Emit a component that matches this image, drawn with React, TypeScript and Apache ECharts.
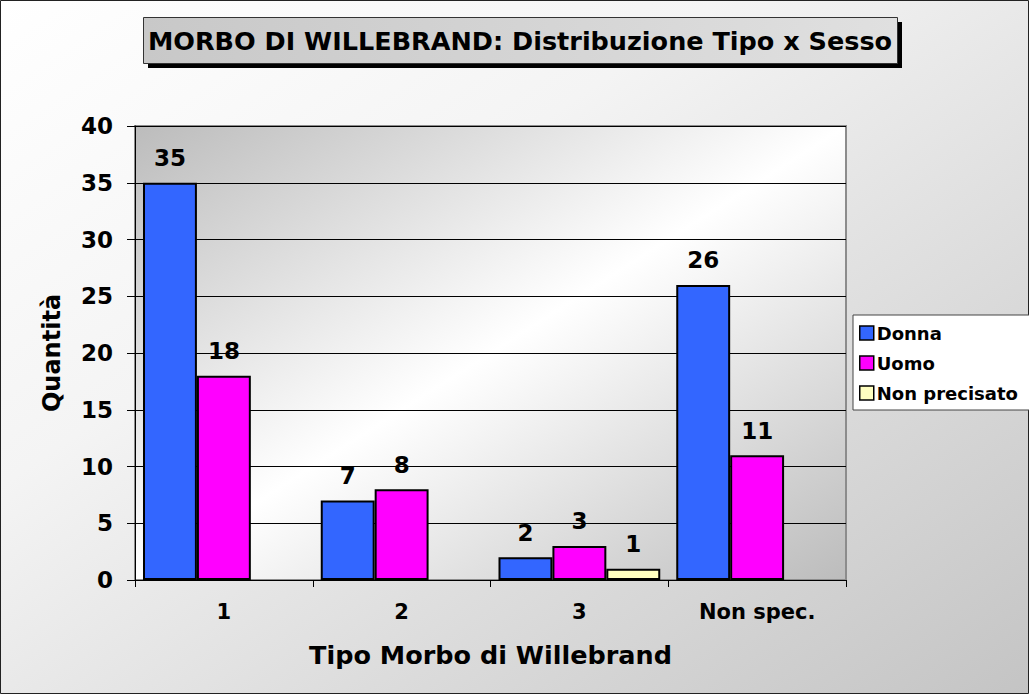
import React, { useEffect, useRef } from "react";
import * as echarts from "echarts";

const categories = ["1", "2", "3", "Non spec."];
const donna = [35, 7, 2, 26];
const uomo = [18, 8, 3, 11];
const nonPrecisato = [null, null, 1, null];
const yTicks = { min: 0, max: 40, interval: 5 };

const FONT = "'DejaVu Sans', Verdana, sans-serif";

export default function App() {
  const ref = useRef<HTMLDivElement>(null);
  useEffect(() => {
    document.body.style.margin = "0";
    const chart = echarts.init(ref.current!, null, { renderer: "svg" });
    const label = {
      show: true,
      position: "top" as const,
      distance: 13,
      fontFamily: FONT,
      fontWeight: "bold" as const,
      fontSize: 23,
      color: "#000",
    };
    const mk = (name: string, data: any[], color: string) => ({
      name,
      type: "bar" as const,
      data,
      barGap: "0%",
      barCategoryGap: "9%",
      itemStyle: { color, borderColor: "#000", borderWidth: 2 },
      label,
    });
    chart.setOption({
      animation: false,
      textStyle: { fontFamily: FONT },
      graphic: [
        {
          type: "rect",
          z: -100,
          shape: { x: 0.5, y: 0.5, width: 1028, height: 693 },
          style: {
            fill: new echarts.graphic.LinearGradient(0, 0, 1, 1, [
              { offset: 0, color: "#ffffff" },
              { offset: 0.35, color: "#f4f4f4" },
              { offset: 1, color: "#c4c4c4" },
            ]),
            stroke: "#222",
            lineWidth: 1,
          },
        },
        {
          type: "rect",
          z: -90,
          shape: { x: 135, y: 126, width: 711, height: 454 },
          style: {
            fill: new echarts.graphic.LinearGradient(0, 0, 1, 1, [
              { offset: 0, color: "#bcbcbc" },
              { offset: 0.5, color: "#ffffff" },
              { offset: 1, color: "#bcbcbc" },
            ]),
            stroke: "#8c8c8c",
            lineWidth: 2,
          },
        },
        {
          type: "rect",
          z: 10,
          shape: { x: 148, y: 22, width: 754, height: 46 },
          style: { fill: "#000" },
        },
        {
          type: "rect",
          z: 11,
          shape: { x: 143.5, y: 17.5, width: 754, height: 46 },
          style: {
            fill: new echarts.graphic.LinearGradient(0, 0, 1, 0, [
              { offset: 0, color: "#c8c8c8" },
              { offset: 1, color: "#e0e0e0" },
            ]),
            stroke: "#333",
            lineWidth: 1,
          },
        },
        {
          type: "text",
          z: 12,
          x: 520,
          y: 41,
          style: {
            text: "MORBO DI WILLEBRAND: Distribuzione Tipo x Sesso",
            fontFamily: FONT,
            fontWeight: "bold",
            fontSize: 25.5,
            fill: "#000",
            align: "center",
            verticalAlign: "middle",
          },
        },
      ],
      legend: {
        orient: "vertical",
        left: 853,
        top: 315,
        backgroundColor: "#fff",
        borderColor: "#444",
        borderWidth: 1,
        padding: [9, 20, 8, 6],
        itemWidth: 14,
        itemHeight: 14,
        itemGap: 12,
        icon: "rect",
        itemStyle: { borderColor: "#000", borderWidth: 1.5 },
        textStyle: {
          fontFamily: FONT,
          fontWeight: "bold",
          fontSize: 18,
          color: "#000",
          padding: [0, 0, 0, -2],
        },
        data: ["Donna", "Uomo", "Non precisato"],
      },
      grid: { left: 135, top: 126, width: 711, height: 454, containLabel: false },
      xAxis: {
        type: "category",
        data: categories,
        name: "Tipo Morbo di Willebrand",
        nameLocation: "middle",
        nameGap: 62,
        nameTextStyle: {
          fontFamily: FONT,
          fontWeight: "bold",
          fontSize: 25.5,
          color: "#000",
          verticalAlign: "top",
        },
        axisLine: { lineStyle: { color: "#000", width: 1 } },
        axisTick: { show: true, inside: false, length: 7, alignWithLabel: false, lineStyle: { color: "#000" } },
        axisLabel: {
          margin: 21,
          fontFamily: FONT,
          fontWeight: "bold",
          fontSize: 21,
          color: "#000",
          verticalAlign: "top",
        },
      },
      yAxis: {
        type: "value",
        min: yTicks.min,
        max: yTicks.max,
        interval: yTicks.interval,
        name: "Quantità",
        nameLocation: "middle",
        nameGap: 71,
        nameTextStyle: {
          fontFamily: FONT,
          fontWeight: "bold",
          fontSize: 24,
          color: "#000",
        },
        axisLine: { show: true, lineStyle: { color: "#000", width: 1 } },
        axisTick: { show: true, length: 8, lineStyle: { color: "#000" } },
        axisLabel: {
          margin: 22,
          fontFamily: FONT,
          fontWeight: "bold",
          fontSize: 23,
          color: "#000",
        },
        splitLine: { show: true, lineStyle: { color: "#000", width: 1 } },
      },
      series: [
        mk("Donna", donna, "#3366ff"),
        mk("Uomo", uomo, "#ff00ff"),
        mk("Non precisato", nonPrecisato, "#ffffc0"),
      ],
    });
    return () => chart.dispose();
  }, []);
  return <div ref={ref} style={{ width: 1029, height: 694 }} />;
}
